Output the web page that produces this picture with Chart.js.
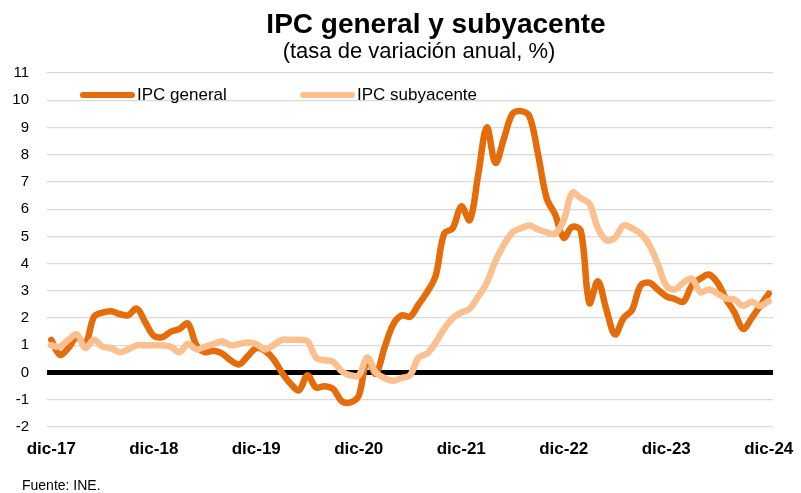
<!DOCTYPE html>
<html>
<head>
<meta charset="utf-8">
<script src="https://cdn.jsdelivr.net/npm/chart.js@4"></script>
<style>
  html, body { margin: 0; padding: 0; background: #fff; }
  #wrap { width: 801px; height: 493px; }
</style>
</head>
<body>
<div id="wrap"><canvas id="ipcChart" width="801" height="493"></canvas></div>
<script>
// monthly, dic-17 .. dic-24
const meses = ['ene', 'feb', 'mar', 'abr', 'may', 'jun', 'jul', 'ago', 'sep', 'oct', 'nov', 'dic'];
let labels = ['dic-17'];
for (let y = 18; y <= 24; y++) {
    meses.forEach(m => labels.push(m + '-' + y));
}

const ipcGeneral = [
    1.2, 0.65, 0.9, 1.3, 1.05, 2.05, 2.2, 2.25, 2.15, 2.1, 2.35, 1.85,
    1.35, 1.3, 1.5, 1.6, 1.8, 1.0, 0.75, 0.8, 0.7, 0.45, 0.3, 0.6,
    0.9, 0.8, 0.5, 0.0, -0.4, -0.65, -0.1, -0.55, -0.5, -0.6, -1.05, -1.1,
    -0.85, 0.5, -0.05, 0.9, 1.75, 2.1, 2.05, 2.5, 2.95, 3.55, 5.1, 5.3,
    6.1, 5.6, 7.3, 9.0, 7.7, 8.6, 9.5, 9.6, 9.4, 8.0, 6.4, 5.8,
    4.95, 5.35, 5.2, 2.55, 3.35, 2.3, 1.4, 2.0, 2.3, 3.2, 3.3, 3.05,
    2.8, 2.7, 2.6, 3.2, 3.45, 3.6, 3.3, 2.7, 2.2, 1.6, 2.0, 2.45,
    2.9
];
const ipcSubyacente = [
    1.0, 0.95, 1.2, 1.4, 0.9, 1.2, 0.95, 0.9, 0.75, 0.85, 1.0, 1.0,
    1.0, 1.0, 0.95, 0.75, 1.05, 0.85, 0.95, 1.05, 1.15, 1.0, 1.05, 1.1,
    1.05, 0.85, 1.0, 1.2, 1.2, 1.2, 1.15, 0.55, 0.45, 0.4, 0.05, -0.1,
    -0.1, 0.55, 0.0, -0.2, -0.3, -0.2, -0.1, 0.55, 0.7, 1.1, 1.6, 2.0,
    2.2, 2.35, 2.8, 3.3, 4.1, 4.7, 5.15, 5.3, 5.4, 5.25, 5.15, 5.1,
    5.6, 6.6, 6.4, 6.2, 5.3, 4.85, 4.95, 5.4, 5.3, 5.1, 4.7, 4.0,
    3.2, 3.05, 3.3, 3.45, 2.95, 3.05, 2.9, 2.72, 2.68, 2.45, 2.6, 2.45,
    2.62
];

const darkOrange = '#E46C0A';
const lightOrange = '#FAC090';
const fontFam = "'Liberation Sans', Arial, sans-serif";

// title, subtitle, legend and source drawn on the canvas
const extras = {
    id: 'extras',
    afterDraw(chart) {
        let ctx = chart.ctx;
        ctx.save();
        ctx.fillStyle = '#000';
        ctx.textAlign = 'center';
        ctx.textBaseline = 'alphabetic';
        ctx.font = 'bold 28px ' + fontFam;
        ctx.fillText('IPC general y subyacente', 436, 33);
        ctx.font = '22px ' + fontFam;
        ctx.fillText('(tasa de variación anual, %)', 419, 58);

        ctx.textAlign = 'left';
        ctx.font = '14px ' + fontFam;
        ctx.fillText('Fuente: INE.', 22, 490);

        // legend
        const items = [
            {x: 80, text: 'IPC general', color: darkOrange},
            {x: 300, text: 'IPC subyacente', color: lightOrange}
        ];
        ctx.lineCap = 'round';
        ctx.lineWidth = 6;
        ctx.textBaseline = 'middle';
        ctx.font = '17px ' + fontFam;
        items.forEach(it => {
            ctx.strokeStyle = it.color;
            ctx.beginPath();
            ctx.moveTo(it.x + 3, 95);
            ctx.lineTo(it.x + 52, 95);
            ctx.stroke();
            ctx.fillStyle = '#000';
            ctx.fillText(it.text, it.x + 57, 95);
        });
        ctx.restore();
    }
};

let ctx = document.getElementById('ipcChart').getContext('2d');

let chart = new Chart(ctx, {
    type: 'line',
    data: {
        labels: labels,
        datasets: [{
            label: 'IPC general',
            data: ipcGeneral,
            borderColor: darkOrange,
            backgroundColor: darkOrange,
            borderWidth: 6.5,
            pointRadius: 0,
            tension: 0.35,
            borderCapStyle: 'round',
            borderJoinStyle: 'round',
            order: 1
        }, {
            label: 'IPC subyacente',
            data: ipcSubyacente,
            borderColor: lightOrange,
            backgroundColor: lightOrange,
            borderWidth: 6.5,
            pointRadius: 0,
            tension: 0.35,
            borderCapStyle: 'round',
            borderJoinStyle: 'round',
            order: 0
        }]
    },
    options: {
        responsive: false,
        animation: false,
        layout: {
            padding: {top: 73, right: 28, bottom: 26, left: 0}
        },
        scales: {
            x: {
                offset: true,
                grid: {display: false, drawTicks: false},
                border: {display: false},
                ticks: {
                    autoSkip: false,
                    maxRotation: 0,
                    padding: 12,
                    color: '#000',
                    font: {family: fontFam, size: 17, weight: 'bold'},
                    callback: function(val, i) {
                        return i % 12 === 0 ? labels[i] : null;
                    }
                },
                afterFit: function(scale) {
                    scale.height = 40;
                    scale.paddingLeft = 0;
                    scale.paddingRight = 0;
                }
            },
            y: {
                min: -2,
                max: 11,
                border: {display: false},
                grid: {
                    drawTicks: false,
                    color: c => c.tick.value === 0 ? '#000' : '#D9D9D9',
                    lineWidth: c => c.tick.value === 0 ? 5 : 1.2
                },
                ticks: {
                    stepSize: 1,
                    padding: 18,
                    color: '#000',
                    font: {family: fontFam, size: 15}
                },
                afterFit: function(scale) { scale.width = 47; }
            }
        },
        plugins: {
            legend: {display: false},
            tooltip: {enabled: false}
        }
    },
    plugins: [extras]
});
</script>
</body>
</html>
